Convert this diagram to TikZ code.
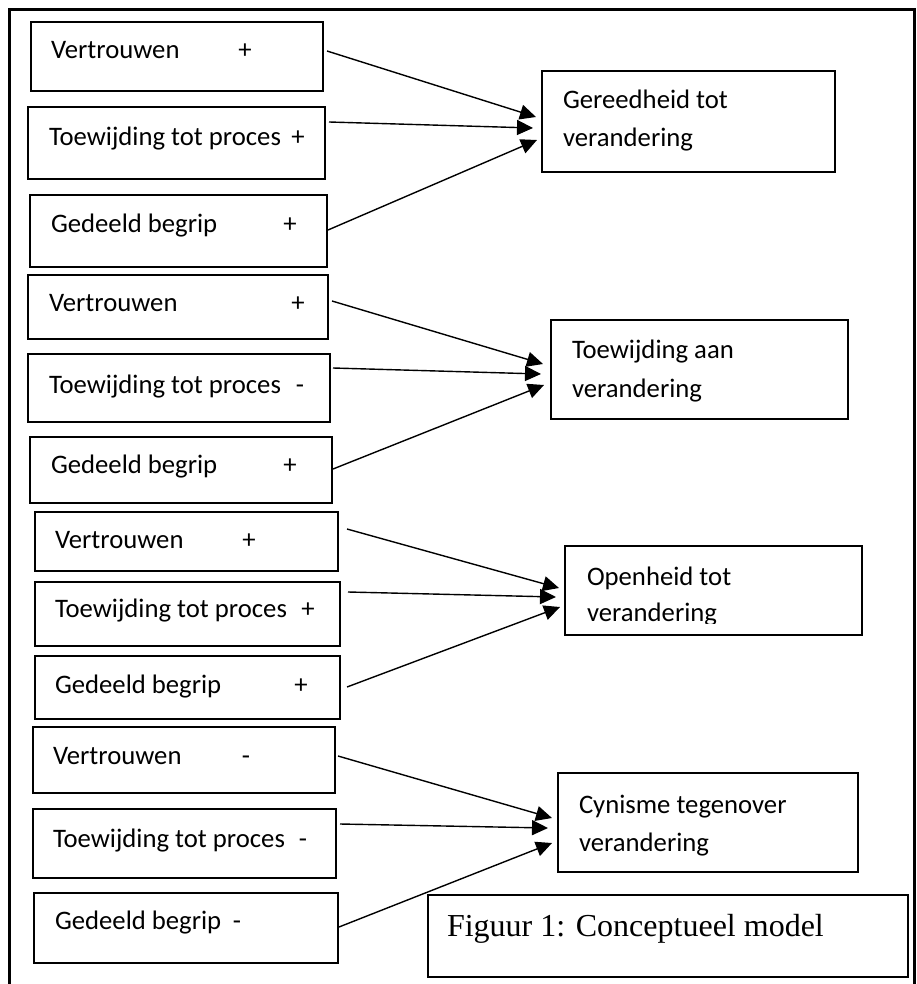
\documentclass[tikz,border=0pt]{standalone}
\usepackage{fontspec}
\setmainfont{Carlito}
\newfontfamily\timesf{Liberation Serif}
\usetikzlibrary{arrows.meta,calc}
\tikzset{
  box/.style={draw, line width=2.2pt, inner sep=0pt, outer sep=0pt, anchor=north west},
  lbl/.style={inner sep=0pt, outer sep=0pt, anchor=base west, font=\fontsize{26.7}{32}\selectfont},
  sgn/.style={inner sep=0pt, outer sep=0pt, anchor=base, font=\fontsize{26.7}{32}\selectfont},
  arr/.style={line width=1.4pt, -{Triangle[length=16pt,width=15pt]}},
  frame/.style={line width=3pt}
}
\newcommand{\bx}[5]{\node[box, minimum width=#4pt-#2pt, minimum height=#5pt-#3pt] (#1) at (#2,#3) {};}
\begin{document}
\begin{tikzpicture}[x=1pt,y=-1pt]
\useasboundingbox (0,0) rectangle (917,984);
\fill[white] (0,0) rectangle (917,984);
\draw[frame] (9,984) -- (9,10) -- (914,10) -- (914,984);

% group 1
\bx{A1}{31}{22}{323}{91}
\bx{B1}{28}{107}{325}{179}
\bx{C1}{30}{195}{327}{267}
\bx{T1}{542}{71}{835}{172}
\node[lbl] (A1t) at (51,59) {Vertrouwen};
\node[sgn] (A1s) at (245,59) {+};
\node[lbl] (B1t) at (49,146) {Toewijding tot proces};
\node[sgn] (B1s) at (298,146) {+};
\node[lbl] (C1t) at (51,233) {Gedeeld begrip};
\node[sgn] (C1s) at (290,233) {+};
\node[lbl] (T1a) at (563,109) {Gereedheid tot};
\node[lbl] (T1b) at (563,147) {verandering};
\draw[arr] ($(A1.north east)+(4,29)$) -- ($(T1.north west)+(-6,46)$);
\draw[arr] ($(B1.north east)+(4,15)$) -- ($(T1.north west)+(-9,57)$);
\draw[arr] ($(C1.north east)+(1,35)$) -- ($(T1.north west)+(-5,69)$);

% group 2
\bx{A2}{28}{275}{328}{339}
\bx{B2}{28}{354}{330}{422}
\bx{C2}{30}{437}{332}{503}
\bx{T2}{551}{320}{848}{419}
\node[lbl] (A2t) at (49,311) {Vertrouwen};
\node[sgn] (A2s) at (298,311) {+};
\node[lbl] (B2t) at (49,393) {Toewijding tot proces};
\node[sgn] (B2s) at (300,393) {-};
\node[lbl] (C2t) at (51,473) {Gedeeld begrip};
\node[sgn] (C2s) at (290,473) {+};
\node[lbl] (T2a) at (572,358) {Toewijding aan};
\node[lbl] (T2b) at (572,397) {verandering};
\draw[arr] ($(A2.north east)+(4,26)$) -- ($(T2.north west)+(-8,44)$);
\draw[arr] ($(B2.north east)+(3,14)$) -- ($(T2.north west)+(-10,54)$);
\draw[arr] ($(C2.north east)+(1,32)$) -- ($(T2.north west)+(-7,65)$);

% group 3
\bx{A3}{35}{512}{338}{571}
\bx{B3}{35}{582}{340}{646}
\bx{C3}{35}{656}{340}{719}
\bx{T3}{565}{546}{862}{635}
\node[lbl] (A3t) at (55,548) {Vertrouwen};
\node[sgn] (A3s) at (249,548) {+};
\node[lbl] (B3t) at (55,617) {Toewijding tot proces};
\node[sgn] (B3s) at (308,617) {+};
\node[lbl] (C3t) at (55,693) {Gedeeld begrip};
\node[sgn] (C3s) at (301,693) {+};
\node[lbl] (T3a) at (587,585) {Openheid tot};
\begin{scope}
\clip (570,590) rectangle (850,623);
\node[lbl] (T3b) at (587,621) {verandering};
\end{scope}
\draw[arr] ($(A3.north east)+(9,17)$) -- ($(T3.north west)+(-6,42)$);
\draw[arr] ($(B3.north east)+(8,10)$) -- ($(T3.north west)+(-9,51)$);
\draw[arr] ($(C3.north east)+(7,31)$) -- ($(T3.north west)+(-5,61)$);

% group 4
\bx{A4}{33}{727}{335}{793}
\bx{B4}{33}{809}{336}{878}
\bx{C4}{34}{893}{338}{963}
\bx{T4}{558}{773}{858}{872}
\node[lbl] (A4t) at (53,764) {Vertrouwen};
\node[sgn] (A4s) at (246,764) {-};
\node[lbl] (B4t) at (53,847) {Toewijding tot proces};
\node[sgn] (B4s) at (303,847) {-};
\node[lbl] (C4t) at (55,929) {Gedeeld begrip};
\node[sgn] (C4s) at (237,929) {-};
\node[lbl] (T4a) at (579,813) {Cynisme tegenover};
\node[lbl] (T4b) at (579,851) {verandering};
\draw[arr] ($(A4.north east)+(3,29)$) -- ($(T4.north west)+(-6,45)$);
\draw[arr] ($(B4.north east)+(4,15)$) -- ($(T4.north west)+(-10,55)$);
\draw[arr] ($(C4.north east)+(1,34)$) -- ($(T4.north west)+(-6,70)$);

% caption box
\bx{F}{428}{895}{908}{977}
\node[inner sep=0pt, outer sep=0pt, anchor=base west, font=\timesf\fontsize{32}{38}\selectfont] (Ft) at (447,936) {Figuur 1: Conceptueel model};
\end{tikzpicture}
\end{document}
